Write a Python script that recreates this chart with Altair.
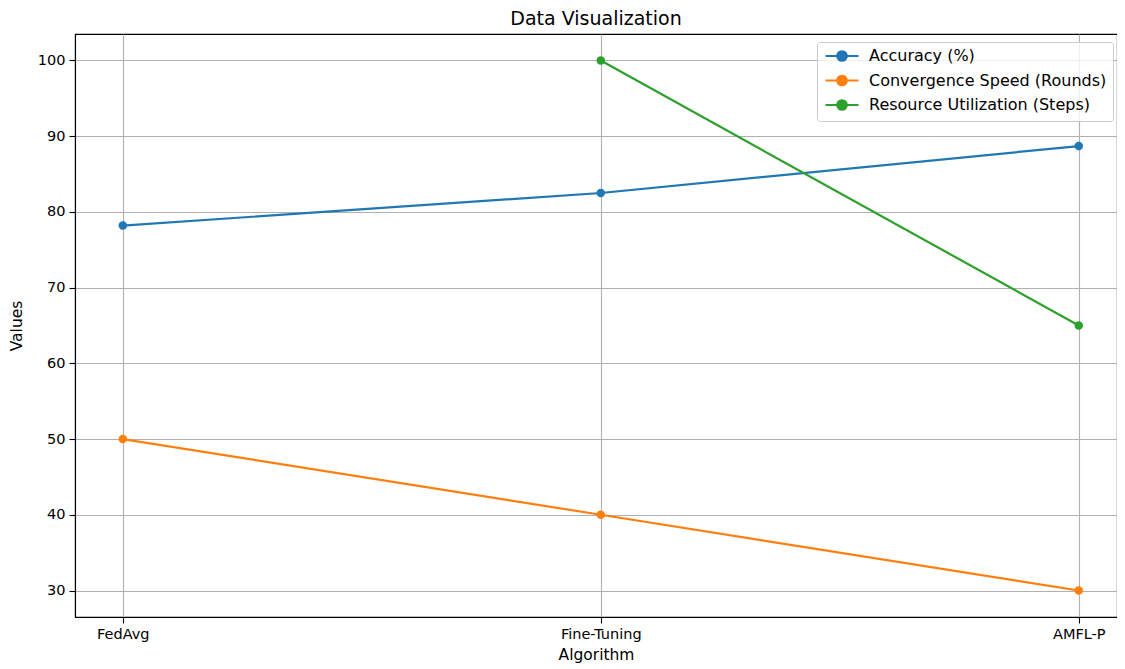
import altair as alt
import pandas as pd

algorithms = ["FedAvg", "Fine-Tuning", "AMFL-P"]
series_names = ["Accuracy (%)", "Convergence Speed (Rounds)", "Resource Utilization (Steps)"]
accuracy = [78.2, 82.5, 88.7]
convergence = [50, 40, 30]
resource = [None, 100, 65]
colors = ["#1f77b4", "#ff7f0e", "#2ca02c"]
y_ticks = [30, 40, 50, 60, 70, 80, 90, 100]

rows = []
for name, vals in zip(series_names, [accuracy, convergence, resource]):
    for i, (alg, v) in enumerate(zip(algorithms, vals)):
        if v is not None:
            rows.append({"idx": i, "Algorithm": alg, "Series": name, "Value": v})
df = pd.DataFrame(rows)

label_expr = " : ".join(
    f"datum.value == {i} ? '{a}'" for i, a in enumerate(algorithms)
) + " : ''"

FONT = "DejaVu Sans"
sym = "M-3.3,0L3.3,0M0.95,0A0.95,0.95,0,1,1,-0.95,0A0.95,0.95,0,1,1,0.95,0Z"

base = alt.Chart(df).encode(
    x=alt.X("idx:Q", scale=alt.Scale(domain=[-0.1, 2.08], nice=False, zero=False),
            axis=alt.Axis(title="Algorithm", values=list(range(len(algorithms))),
                          labelExpr=label_expr, grid=True)),
    y=alt.Y("Value:Q", scale=alt.Scale(domain=[26.5, 103.5], nice=False, zero=False),
            axis=alt.Axis(title="Values", values=y_ticks)),
    color=alt.Color("Series:N", scale=alt.Scale(domain=series_names, range=colors),
                    legend=alt.Legend(title=None, orient="none", legendX=742, legendY=8,
                                      symbolType=sym, symbolSize=100,
                                      symbolStrokeWidth=2.2, symbolOpacity=1,
                                      labelFont=FONT, labelFontSize=16, labelColor="#000",
                                      labelLimit=0, rowPadding=4.5, symbolOffset=11,
                                      padding=6, strokeColor="#cccccc",
                                      fillColor="rgba(255,255,255,0.8)",
                                      cornerRadius=3, labelOffset=19)),
    detail="Series:N",
    tooltip=["Algorithm:N", "Series:N", "Value:Q"],
)

lines = base.mark_line(strokeWidth=2.2)
points = base.mark_point(filled=True, size=72, opacity=1)

chart = alt.layer(lines, points).properties(
    width=1042, height=583,
    title=alt.TitleParams("Data Visualization", font=FONT, fontSize=19, fontWeight="normal",
                          color="#000", offset=5),
    autosize=alt.AutoSizeParams(type="none"),
    padding={"left": 67, "top": 26, "right": 0, "bottom": 47},
).configure_view(stroke="#000", strokeWidth=1.1).configure_axis(
    labelFont=FONT, labelFontSize=14.5, labelColor="#000",
    titleFont=FONT, titleFontSize=15.5, titleColor="#000", titleFontWeight="normal",
    gridColor="#b0b0b0", gridWidth=1.1, gridOpacity=1,
    domainColor="#000", domainWidth=1.1,
    tickColor="#000", tickSize=6, tickWidth=1.1, labelPadding=4,
).configure_axisX(titlePadding=7).configure_axisY(titlePadding=13)

chart.save("out.html", embed_options={"renderer": "svg", "actions": False})
